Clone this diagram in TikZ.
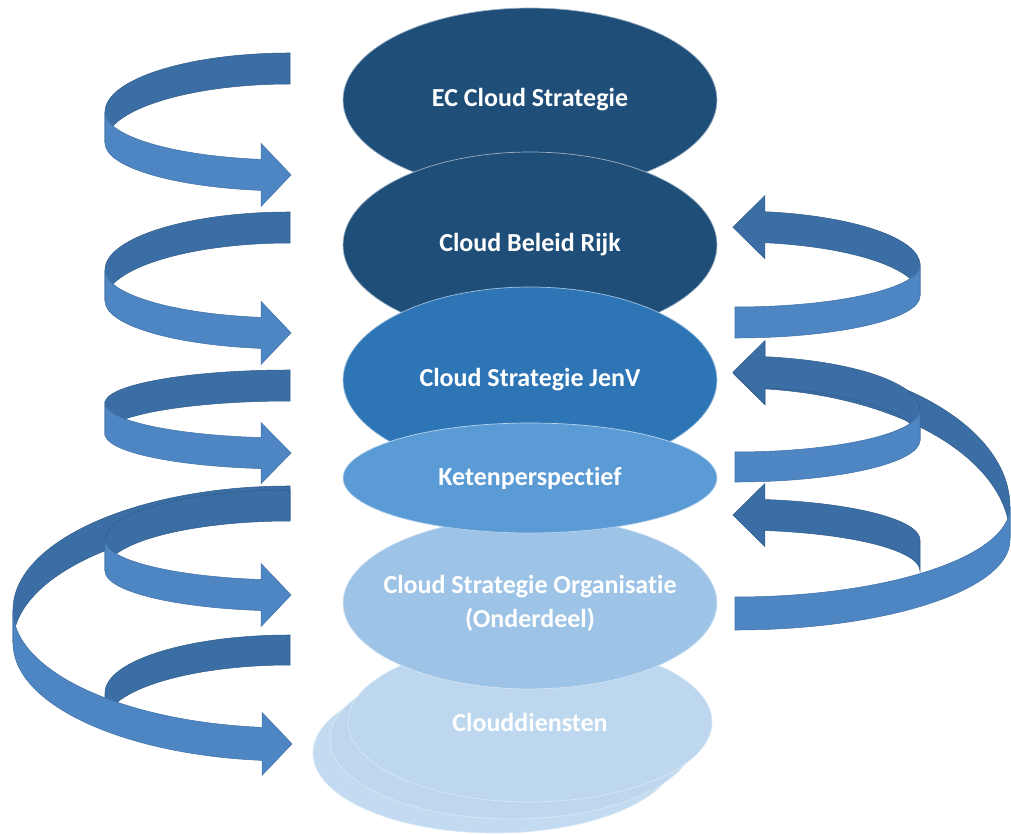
\documentclass[tikz,border=0pt]{standalone}
\usepackage{fontspec}
\setmainfont{Carlito}[Ligatures=NoCommon]
\usepackage{tikz}
\usetikzlibrary{shapes.geometric}

\definecolor{navy}{HTML}{1F4E79}
\definecolor{midblue}{HTML}{2E75B6}
\definecolor{skyblue}{HTML}{5B9BD5}
\definecolor{paleblue}{HTML}{9DC3E6}
\definecolor{iceblue}{HTML}{BDD7EE}
\definecolor{bandback}{HTML}{3B6EA4}
\definecolor{bandfront}{HTML}{4E86C3}

% ribbon parts: cx, cy, rx, ry, h (+ end angle, head width)
\newcommand{\leftback}[5]{%
  \filldraw[band back] ({#1},{#2-#4}) arc[start angle=270, end angle=180, x radius=#3, y radius=#4]
    -- ++(0,#5) arc[start angle=180, end angle=270, x radius=#3, y radius=#4] -- cycle;}
\newcommand{\leftfront}[7]{%
  \filldraw[band front] ({#1-#3},{#2}) arc[start angle=180, end angle=#6, x radius=#3, y radius=#4]
    -- ++(0,-#7) -- ++(30,{#7+#5/2}) -- ++(-30,{#7+#5/2}) -- ++(0,-#7)
    arc[start angle=#6, end angle=180, x radius=#3, y radius=#4] -- cycle;}
\newcommand{\rightback}[7]{%
  \filldraw[band back] ({#1+#3},{#2}) arc[start angle=0, end angle=#6, x radius=#3, y radius=#4]
    -- ++(0,-#7) -- ++(-32,{#7+#5/2}) -- ++(32,{#7+#5/2}) -- ++(0,-#7)
    arc[start angle=#6, end angle=0, x radius=#3, y radius=#4] -- cycle;}
\newcommand{\rightfront}[5]{%
  \filldraw[band front] ({#1+#3},{#2}) arc[start angle=0, end angle=90, x radius=#3, y radius=#4]
    -- ++(0,#5) arc[start angle=90, end angle=0, x radius=#3, y radius=#4] -- cycle;}

\begin{document}
\begin{tikzpicture}[x=0.02cm, y=-0.02cm]
			% Define style
			\tikzset{
				layer/.style={ellipse, inner sep=0pt, minimum width=7.48cm, draw=white!55!#1, line width=0.4pt, fill=#1},
				stack/.style={ellipse, inner sep=0pt, minimum width=7.28cm, minimum height=3.2cm, draw=white!40!iceblue, line width=0.4pt, fill=iceblue, fill opacity=0.9},
				caption/.style={text=white, align=center, font=\bfseries\fontsize{14.8}{19.3}\selectfont},
				band back/.style={fill=bandback, draw=bandback!85!black, line width=0.3pt},
				band front/.style={fill=bandfront, draw=bandfront!85!black, line width=0.3pt}
			}
			\useasboundingbox (0,0) rectangle (1011,834);
			
			% Define layers
			\node (ec) [layer=navy, minimum height=3.68cm] at (530,100) {};
			\node (rijk) [layer=navy, minimum height=3.72cm] at (530,245) {};
			\node (jenv) [layer=midblue, minimum height=3.72cm] at (530,380) {};
			\node (dienst3) [stack] at (495,753) {};
			\node (dienst2) [stack] at (512,739) {};
			\node (dienst1) [stack, fill opacity=1] at (530,722) {};
			\node (org) [layer=paleblue, minimum height=3.44cm] at (530,603) {};
			\node (keten) [layer=skyblue, minimum height=2.2cm] at (530,478) {};
			
			% Define captions
			\node (ectext) [caption] at (ec) {EC Cloud Strategie};
			\node (rijktext) [caption] at (rijk) {Cloud Beleid Rijk};
			\node (jenvtext) [caption] at (jenv) {Cloud Strategie JenV};
			\node (ketentext) [caption] at (keten) {Ketenperspectief};
			\node (orgtext) [caption] at (org) {Cloud Strategie Organisatie\\(Onderdeel)};
			\node (diensttext) [caption] at (dienst1) {Clouddiensten};
			
			% Define left ribbons
			\leftback{290}{112}{185}{59}{31}
			\leftfront{290}{112}{185}{48}{31}{99}{16}
			\leftback{290}{270}{185}{58}{31}
			\leftfront{290}{270}{185}{48}{31}{99}{16}
			\leftback{290}{403}{185}{33}{31}
			\leftfront{290}{403}{185}{35}{31}{99}{15}
			\leftback{290}{610}{277}{124}{33}
			\leftback{290}{540}{185}{50}{31}
			\leftfront{290}{540}{185}{40}{31}{99}{16}
			\leftback{290}{693}{185}{58}{30}
			\leftfront{290}{610}{277}{118}{33}{95.8}{15}
			
			% Define right ribbons
			\rightback{735}{265}{185}{54}{31}{-80.7}{16}
			\rightfront{735}{265}{185}{42}{31}
			\rightback{735}{507}{275}{150}{31}{-83.7}{16}
			\rightback{735}{410}{185}{54}{31}{-80.7}{16}
			\rightfront{735}{410}{185}{42}{30}
			\rightback{735}{540}{185}{41}{31}{-80.7}{16}
			\rightfront{735}{507}{275}{90}{33}
		\end{tikzpicture}
\end{document}
